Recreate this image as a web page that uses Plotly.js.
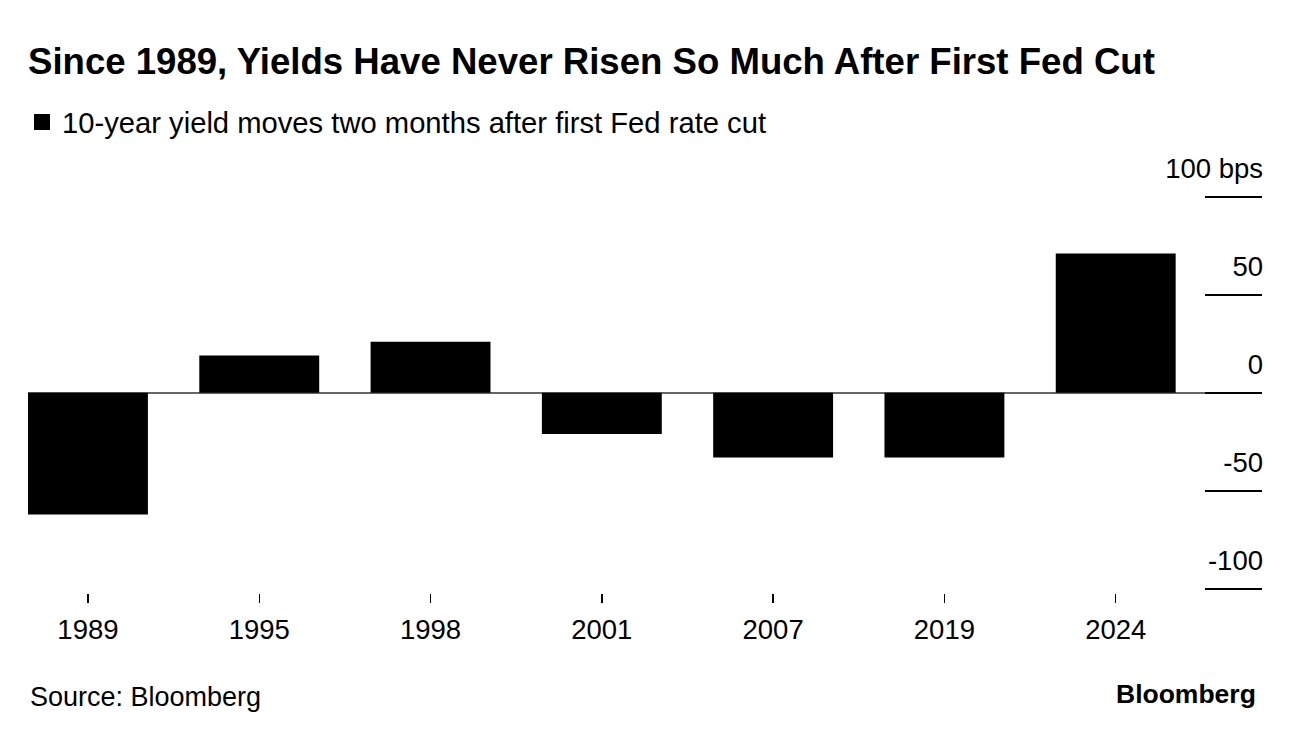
<!DOCTYPE html>
<html>
<head>
<meta charset="utf-8">
<script src="https://cdn.plot.ly/plotly-3.0.1.min.js"></script>
<style>
  html, body { margin: 0; padding: 0; background: #ffffff; }
  #chart { width: 1296px; height: 740px; }
</style>
</head>
<body>
<div id="chart"></div>
<script>
// ---- Data ----
var years = ['1989', '1995', '1998', '2001', '2007', '2019', '2024'];
var yieldMoves = [-62, 19, 26, -21, -33, -33, 71];   // bps, two months after first Fed cut
var yTickVals = [-100, -50, 0, 50, 100];
var yTickText = ['-100', '-50', '0', '50', '100 bps'];
var seriesName = '10-year yield moves two months after first Fed rate cut';
var titleText = 'Since 1989, Yields Have Never Risen So Much After First Fed Cut';
var sourceText = 'Source: Bloomberg';
var brandText = 'Bloomberg';

var FONT = 'Liberation Sans, Arial, Helvetica, sans-serif';

var traces = [
  {
    type: 'bar',
    x: years,
    y: yieldMoves,
    marker: { color: '#000000', line: { width: 0 } },
    showlegend: false,
    hoverinfo: 'x+y'
  },
  {
    // legend-only entry (no data points drawn)
    type: 'scatter',
    mode: 'markers',
    x: [null],
    y: [null],
    name: seriesName,
    marker: { symbol: 'square', size: 20, color: '#000000' },
    showlegend: true
  }
];

var layout = {
  width: 1296,
  height: 740,
  paper_bgcolor: '#ffffff',
  plot_bgcolor: '#ffffff',
  margin: { l: 28, r: 34, t: 128, b: 147, pad: 0, autoexpand: false },
  font: { family: FONT, color: '#000000', size: 27 },
  bargap: 0.3,
  title: {
    text: '<b>' + titleText + '</b>',
    font: { family: FONT, size: 36.6, color: '#000000' },
    xref: 'container', x: 28 / 1296, xanchor: 'left',
    yref: 'container', y: 1 - 61 / 740, yanchor: 'middle'
  },
  showlegend: true,
  legend: {
    xref: 'container', x: 22 / 1296, xanchor: 'left',
    yref: 'container', y: 1 - 122 / 740, yanchor: 'middle',
    orientation: 'h',
    font: { family: FONT, size: 29.2, color: '#000000' },
    bgcolor: 'rgba(0,0,0,0)',
    borderwidth: 0
  },
  xaxis: {
    type: 'category',
    range: [-0.35, 6.854],
    fixedrange: true,
    showgrid: false,
    zeroline: false,
    showline: false,
    ticks: 'outside',
    ticklen: 9,
    tickwidth: 1.5,
    tickcolor: '#000000',
    ticklabelstandoff: 3,
    tickfont: { family: FONT, size: 27.5, color: '#000000' }
  },
  yaxis: {
    side: 'right',
    range: [-102, 135],
    fixedrange: true,
    tickmode: 'array',
    tickvals: yTickVals,
    ticktext: yTickText,
    ticks: 'inside',
    ticklen: 57,
    tickwidth: 2,
    tickcolor: '#000000',
    ticklabelposition: 'inside top',
    ticklabelshift: -8,
    ticklabelstandoff: -4,
    tickfont: { family: FONT, size: 27.5, color: '#000000' },
    showgrid: false,
    showline: false,
    zeroline: true,
    zerolinecolor: '#666666',
    zerolinewidth: 2
  },
  annotations: [
    {
      text: sourceText,
      xref: 'paper', yref: 'paper',
      x: 0, xanchor: 'left',
      y: (593 - 697) / 465, yanchor: 'middle',
      showarrow: false,
      font: { family: FONT, size: 27, color: '#000000' }
    },
    {
      text: '<b>' + brandText + '</b>',
      xref: 'paper', yref: 'paper',
      x: (1258 - 28) / 1234, xanchor: 'right',
      y: (593 - 694) / 465, yanchor: 'middle',
      showarrow: false,
      font: { family: FONT, size: 26.5, color: '#000000' }
    }
  ]
};

Plotly.newPlot('chart', traces, layout, { displayModeBar: false, staticPlot: true });
</script>
</body>
</html>
